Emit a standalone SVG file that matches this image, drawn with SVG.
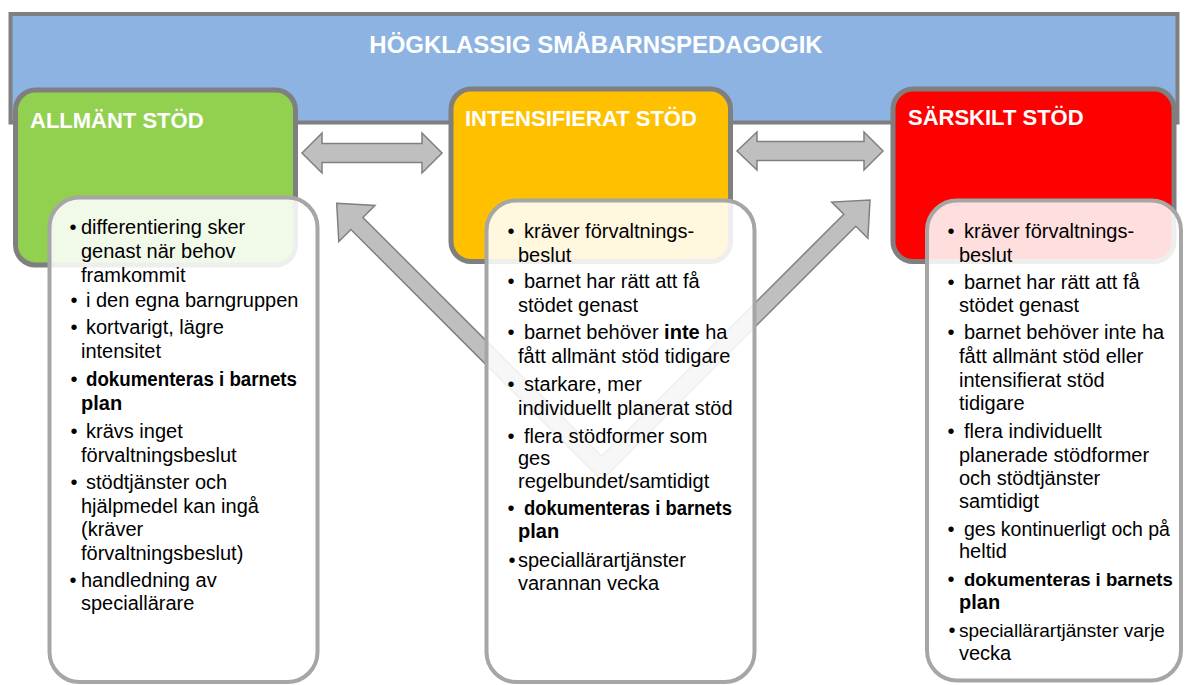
<svg xmlns="http://www.w3.org/2000/svg" width="1185" height="685" viewBox="0 0 1185 685">
<style>
.hdr{fill:#8DB3E2;stroke:#7F7F7F;stroke-width:4}
.box{stroke:#7F7F7F;stroke-width:5}
.card{fill:#FFFFFF;fill-opacity:0.87;stroke:#A6A6A6;stroke-width:4}
.arrow{fill:#BFBFBF;stroke:#808080;stroke-width:1.5;stroke-linejoin:miter}
.t{font-family:"Liberation Sans",Arial,sans-serif;font-size:20px;fill:#000000}
.b{font-weight:bold}
.ttl{font-family:"Liberation Sans",Arial,sans-serif;font-size:22px;font-weight:bold;fill:#FFFFFF}
.main{font-family:"Liberation Sans",Arial,sans-serif;font-size:24px;font-weight:bold;fill:#FFFFFF}
</style>
<rect width="1185" height="685" fill="#FFFFFF"/>
<g id="banner">
<rect class="hdr" x="10.5" y="14" width="1167" height="108.5"/>
<text class="main" x="596" y="53" text-anchor="middle">HÖGKLASSIG SMÅBARNSPEDAGOGIK</text>
</g>
<g id="allmant-stod">
<rect class="box" x="15.5" y="90" width="280" height="175" rx="20" fill="#92D050"/>
<text class="ttl" x="30" y="128">ALLMÄNT STÖD</text>
</g>
<g id="intensifierat-stod">
<rect class="box" x="451" y="89" width="279.5" height="172.5" rx="20" fill="#FFC000"/>
<text class="ttl" x="465" y="126">INTENSIFIERAT STÖD</text>
</g>
<g id="sarskilt-stod">
<rect class="box" x="893" y="89" width="281" height="172.5" rx="20" fill="#FF0000"/>
<text class="ttl" x="908" y="125">SÄRSKILT STÖD</text>
</g>
<g id="connectors">
<polygon class="arrow" points="302,153 322,133 322,143.5 422,143.5 422,133 442,153 422,173 422,162.5 322,162.5 322,173"/>
<polygon class="arrow" points="737,151 757,132 757,141.5 864,141.5 864,132 883,151 864,170 864,160.5 757,160.5 757,170"/>
<polygon class="arrow" points="336.7,203.3 375,205.4 362.9,217.5 601.7,456.3 843.8,214.2 831.7,202.1 870,200 867.9,238.3 855.8,226.2 601.7,480.3 350.9,229.5 338.8,241.6"/>
</g>
<g id="allmant-details">
<rect class="card" x="49.5" y="197.5" width="268" height="484.5" rx="30"/>
<g class="t">
<text x="73" y="234" text-anchor="middle">•</text>
<text x="81" y="234">differentiering sker</text>
<text x="81" y="258">genast när behov</text>
<text x="81" y="282">framkommit</text>
<text x="74" y="307" text-anchor="middle">•</text>
<text x="86" y="307">i den egna barngruppen</text>
<text x="74" y="334" text-anchor="middle">•</text>
<text x="86" y="334">kortvarigt, lägre</text>
<text x="81" y="358">intensitet</text>
<text x="74" y="386" text-anchor="middle">•</text>
<text class="b" x="86" y="386" textLength="211" lengthAdjust="spacingAndGlyphs">dokumenteras i barnets</text>
<text class="b" x="81" y="410">plan</text>
<text x="74" y="438" text-anchor="middle">•</text>
<text x="86" y="438">krävs inget</text>
<text x="81" y="462">förvaltningsbeslut</text>
<text x="74" y="489" text-anchor="middle">•</text>
<text x="86" y="489">stödtjänster och</text>
<text x="81" y="513">hjälpmedel kan ingå</text>
<text x="81" y="536">(kräver</text>
<text x="81" y="560">förvaltningsbeslut)</text>
<text x="73" y="587" text-anchor="middle">•</text>
<text x="81" y="587">handledning av</text>
<text x="81" y="610">speciallärare</text>
</g>
</g>
<g id="intensifierat-details">
<rect class="card" x="486.5" y="200.5" width="268" height="481.5" rx="30"/>
<g class="t">
<text x="511" y="238" text-anchor="middle">•</text>
<text x="524" y="238">kräver förvaltnings-</text>
<text x="518" y="262">beslut</text>
<text x="511" y="288" text-anchor="middle">•</text>
<text x="524" y="288">barnet har rätt att få</text>
<text x="518" y="312">stödet genast</text>
<text x="511" y="339" text-anchor="middle">•</text>
<text x="524" y="339">barnet behöver <tspan class="b">inte</tspan> ha</text>
<text x="518" y="363">fått allmänt stöd tidigare</text>
<text x="511" y="391" text-anchor="middle">•</text>
<text x="524" y="391">starkare, mer</text>
<text x="518" y="415">individuellt planerat stöd</text>
<text x="511" y="443" text-anchor="middle">•</text>
<text x="524" y="443">flera stödformer som</text>
<text x="518" y="465">ges</text>
<text x="518" y="488">regelbundet/samtidigt</text>
<text x="511" y="515" text-anchor="middle">•</text>
<text class="b" x="524" y="515" textLength="208" lengthAdjust="spacingAndGlyphs">dokumenteras i barnets</text>
<text class="b" x="518" y="538">plan</text>
<text x="512" y="567" text-anchor="middle">•</text>
<text x="518" y="567">speciallärartjänster</text>
<text x="518" y="590">varannan vecka</text>
</g>
</g>
<g id="sarskilt-details">
<rect class="card" x="927" y="200.5" width="254" height="480" rx="30"/>
<g class="t">
<text x="951" y="238" text-anchor="middle">•</text>
<text x="964" y="238">kräver förvaltnings-</text>
<text x="959" y="262">beslut</text>
<text x="951" y="289" text-anchor="middle">•</text>
<text x="964" y="289">barnet har rätt att få</text>
<text x="959" y="312">stödet genast</text>
<text x="951" y="339" text-anchor="middle">•</text>
<text x="964" y="339">barnet behöver inte ha</text>
<text x="959" y="363">fått allmänt stöd eller</text>
<text x="959" y="387">intensifierat stöd</text>
<text x="959" y="410">tidigare</text>
<text x="951" y="438" text-anchor="middle">•</text>
<text x="964" y="438">flera individuellt</text>
<text x="959" y="462">planerade stödformer</text>
<text x="959" y="485">och stödtjänster</text>
<text x="959" y="508">samtidigt</text>
<text x="951" y="536" text-anchor="middle">•</text>
<text x="964" y="536" style="font-size:19.5px">ges kontinuerligt och på</text>
<text x="959" y="558">heltid</text>
<text x="951" y="586" text-anchor="middle">•</text>
<text class="b" x="964" y="586" style="font-size:18.5px">dokumenteras i barnets</text>
<text class="b" x="959" y="609">plan</text>
<text x="952" y="637" text-anchor="middle">•</text>
<text x="959" y="637" style="font-size:19px">speciallärartjänster varje</text>
<text x="959" y="660">vecka</text>
</g>
</g>
</svg>
